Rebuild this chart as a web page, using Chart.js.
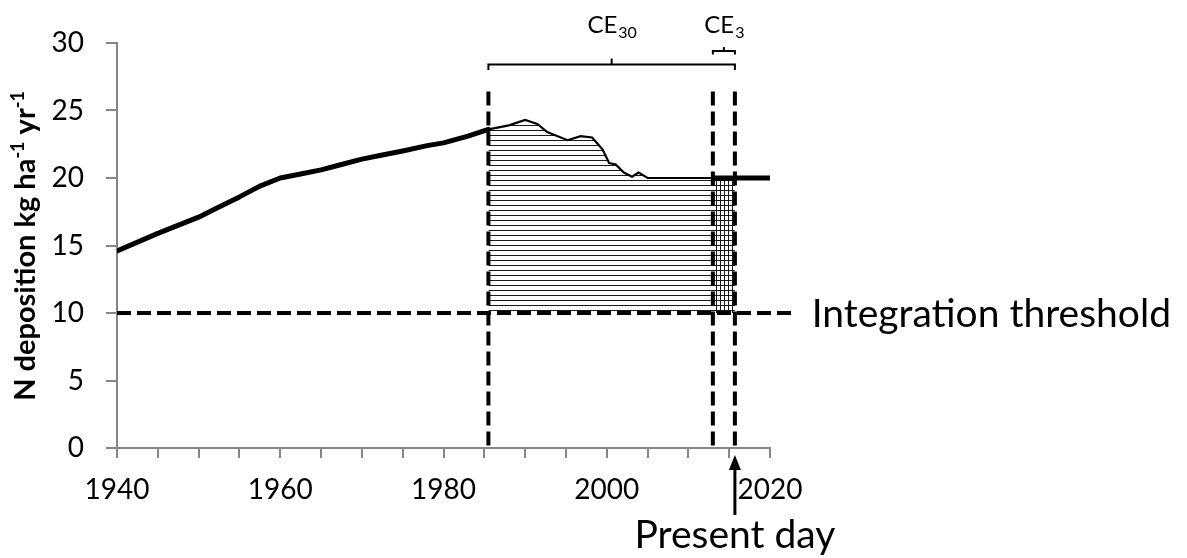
<!DOCTYPE html>
<html>
<head>
<meta charset="utf-8">
<script src="https://cdn.jsdelivr.net/npm/chart.js@4.4.0/dist/chart.umd.min.js"></script>
<style>
  html, body { margin: 0; padding: 0; background: #fff; }
  #wrap { width: 1187px; height: 558px; }
</style>
</head>
<body>
<div id="wrap"><canvas id="deposition-chart" width="1187" height="558"></canvas></div>
<script>
// N deposition (kg ha-1 yr-1)
const earlyYears = [1940, 1945, 1950, 1952, 1955, 1957.5, 1960, 1962.5, 1965, 1967.5, 1970, 1972.5, 1975, 1978, 1980, 1983, 1985.5];
const earlyValues = [14.6, 15.9, 17.1, 17.7, 18.6, 19.4, 20.0, 20.3, 20.6, 21.0, 21.4, 21.7, 22.0, 22.4, 22.6, 23.1, 23.6];
const recentYears = [1985.5, 1988, 1990, 1991.5, 1992.7, 1995.2, 1996.8, 1998.2, 1999.5, 2000.3, 2001.1, 2002.1, 2003.1, 2003.9, 2005, 2013, 2015.7];
const recentValues = [23.6, 23.9, 24.3, 24.0, 23.4, 22.8, 23.1, 23.0, 22.1, 21.1, 21.0, 20.4, 20.1, 20.4, 20.0, 20.0, 20.0];
const lateYears = [2013, 2020];
const lateValues = [20.0, 20.0];

const threshold = 10;
const thresholdEnd = 2022.9;
const ce30Span = [1985.5, 2015.7];
const ce3Span = [2013, 2015.7];
const presentDay = 2015.7;
const markerTop = 26.4;
const ce30Bracket = [28.0, 28.4, 28.85];   // ends, bar, centre tick
const ce3Bracket = [29.15, 29.4, 29.7];
const labelLevel = 31.3;

const FONT = "Lato, 'DejaVu Sans', sans-serif";

const pts = (xs, ys) => xs.map((x, i) => ({ x: x, y: ys[i] }));

const ctx = document.getElementById('deposition-chart').getContext('2d');

function stripes(gap, vertical) {
    const c = document.createElement('canvas');
    c.width = vertical ? gap : 1;
    c.height = vertical ? 1 : gap;
    const g = c.getContext('2d');
    g.fillStyle = '#1a1a1a';
    g.fillRect(0, 0, 1, 1);
    return ctx.createPattern(c, 'repeat');
}

function bracket(span, lv) {
    return [
        { x: span[0], y: lv[0] }, { x: span[0], y: lv[1] },
        { x: span[1], y: lv[1] }, { x: span[1], y: lv[0] }
    ];
}
function bracketTick(span, lv) {
    const mid = (span[0] + span[1]) / 2;
    return [{ x: mid, y: lv[1] }, { x: mid, y: lv[2] }];
}

const plain = { pointRadius: 0, tension: 0, fill: false, borderColor: '#000' };
const dashed = Object.assign({}, plain, { borderWidth: 4, borderDash: [14, 6], clip: false, order: 2 });

const datasets = [
    Object.assign({}, plain, { data: pts(earlyYears, earlyValues), borderWidth: 5, borderCapStyle: 'round', borderJoinStyle: 'round', order: 1 }),
    Object.assign({}, plain, { data: pts(lateYears, lateValues), borderWidth: 5, order: 1 }),
    Object.assign({}, dashed, { data: [{ x: earlyYears[0], y: threshold }, { x: thresholdEnd, y: threshold }] }),
    Object.assign({}, dashed, { data: [{ x: ce30Span[0], y: markerTop }, { x: ce30Span[0], y: 0 }] }),
    Object.assign({}, dashed, { data: [{ x: ce3Span[0], y: markerTop }, { x: ce3Span[0], y: 0 }] }),
    Object.assign({}, dashed, { data: [{ x: presentDay, y: markerTop }, { x: presentDay, y: 0 }] }),
    Object.assign({}, plain, { data: pts(recentYears, recentValues), borderWidth: 2.2, fill: { value: threshold }, backgroundColor: stripes(5, false), order: 5 }),
    Object.assign({}, plain, { data: [{ x: ce3Span[0], y: 20 }, { x: ce3Span[1], y: 20 }], borderWidth: 0, fill: { value: threshold }, backgroundColor: stripes(4, true), order: 4 }),
    Object.assign({}, plain, { data: bracket(ce30Span, ce30Bracket), borderWidth: 2, clip: false, order: 1 }),
    Object.assign({}, plain, { data: bracketTick(ce30Span, ce30Bracket), borderWidth: 2, clip: false, order: 1 }),
    Object.assign({}, plain, { data: bracket(ce3Span, ce3Bracket), borderWidth: 2, clip: false, order: 1 }),
    Object.assign({}, plain, { data: bracketTick(ce3Span, ce3Bracket), borderWidth: 2, clip: false, order: 1 })
];

function subLabel(c, main, sub, cx, base) {
    c.font = '24px ' + FONT;
    const w1 = c.measureText(main).width;
    c.font = '16px ' + FONT;
    const w2 = c.measureText(sub).width;
    const left = cx - (w1 + w2) / 2;
    c.textAlign = 'left';
    c.textBaseline = 'alphabetic';
    c.font = '24px ' + FONT;
    c.fillText(main, left, base);
    c.font = '16px ' + FONT;
    c.fillText(sub, left + w1 + 1, base + 5);
}

const annotate = {
    id: 'annotate',
    afterDraw(chart) {
        const c = chart.ctx;
        const x = chart.scales.x, y = chart.scales.y;
        c.save();
        c.fillStyle = '#000';
        c.strokeStyle = '#000';

        // CE labels above the brackets
        const base = y.getPixelForValue(labelLevel) + 8;
        subLabel(c, 'CE', '30', x.getPixelForValue((ce30Span[0] + ce30Span[1]) / 2), base);
        subLabel(c, 'CE', '3', x.getPixelForValue((ce3Span[0] + ce3Span[1]) / 2), base);

        // threshold label
        c.font = '39px ' + FONT;
        c.textAlign = 'left';
        c.textBaseline = 'middle';
        c.fillText('Integration threshold', x.getPixelForValue(thresholdEnd) + 18, y.getPixelForValue(threshold) + 1);

        // present day arrow + label
        const px = x.getPixelForValue(presentDay);
        const tip = y.bottom + 7;
        c.lineWidth = 3;
        c.beginPath();
        c.moveTo(px, tip + 12);
        c.lineTo(px, tip + 60);
        c.stroke();
        c.beginPath();
        c.moveTo(px, tip);
        c.lineTo(px - 6, tip + 15);
        c.lineTo(px + 6, tip + 15);
        c.closePath();
        c.fill();
        c.font = '39px ' + FONT;
        c.textAlign = 'center';
        c.textBaseline = 'alphabetic';
        c.fillText('Present day', px, 548);

        // y-axis title with superscripts
        const parts = [['N deposition kg ha', 0], ['-1', 1], [' yr', 0], ['-1', 1]];
        const big = 'bold 29px ' + FONT, small = 'bold 18px ' + FONT;
        let total = 0;
        parts.forEach(p => { c.font = p[1] ? small : big; total += c.measureText(p[0]).width; });
        c.translate(35, 246);
        c.rotate(-Math.PI / 2);
        let cur = -total / 2;
        c.textAlign = 'left';
        parts.forEach(p => {
            c.font = p[1] ? small : big;
            c.fillText(p[0], cur, p[1] ? -11 : 0);
            cur += c.measureText(p[0]).width;
        });
        c.restore();
    }
};

new Chart(ctx, {
    type: 'line',
    data: { datasets: datasets },
    options: {
        responsive: false,
        animation: false,
        devicePixelRatio: 1,
        layout: { padding: { left: 0, right: 417, top: 43, bottom: 0 } },
        plugins: { legend: { display: false }, tooltip: { enabled: false } },
        scales: {
            x: {
                type: 'linear',
                min: 1940,
                max: 2020,
                afterFit: s => { s.height = 110; },
                ticks: {
                    stepSize: 5,
                    autoSkip: false,
                    maxRotation: 0,
                    padding: 15,
                    color: '#000',
                    font: { family: FONT, size: 28 },
                    callback: v => (v % 20 === 0 ? String(v) : '')
                },
                grid: { drawOnChartArea: false, tickLength: 10, color: '#868686', lineWidth: 2 },
                border: { color: '#868686', width: 2 }
            },
            y: {
                min: 0,
                max: 30,
                afterFit: s => { s.width = 117; },
                ticks: {
                    stepSize: 5,
                    padding: 22,
                    color: '#000',
                    font: { family: FONT, size: 28 }
                },
                grid: { drawOnChartArea: false, tickLength: 11, color: '#868686', lineWidth: 2 },
                border: { color: '#868686', width: 2 }
            }
        }
    },
    plugins: [annotate]
});
</script>
</body>
</html>
